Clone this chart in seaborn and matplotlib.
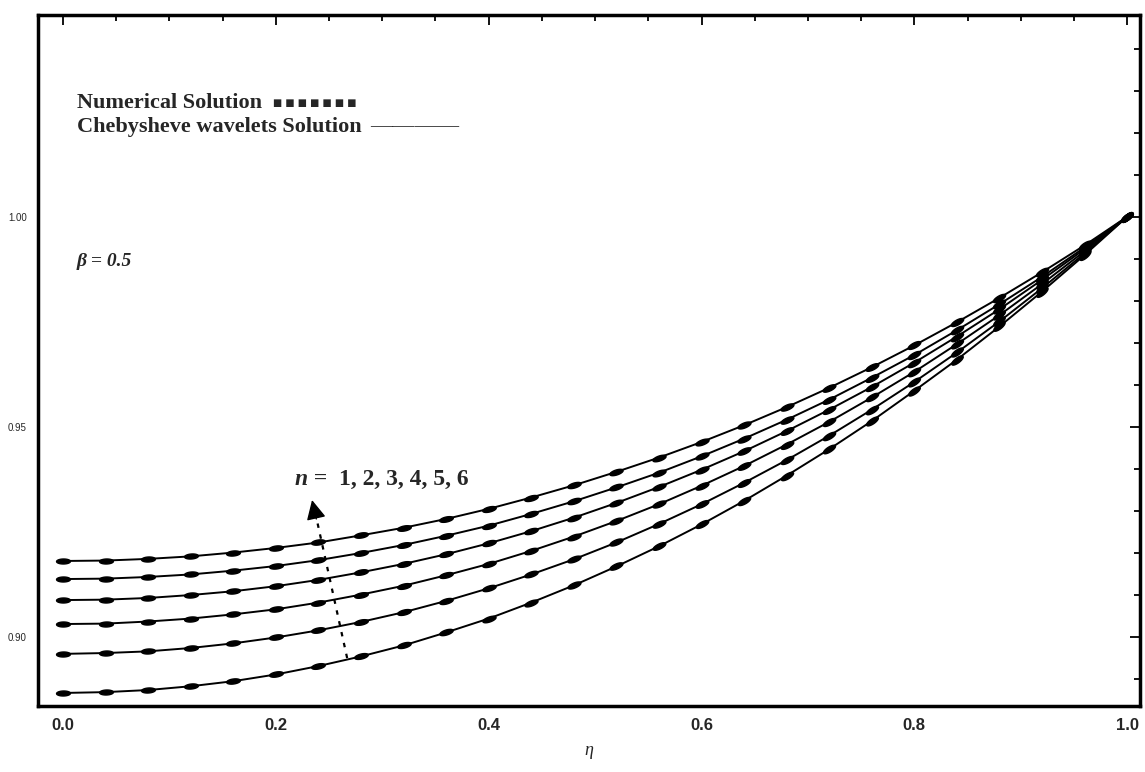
import numpy as np
import pandas as pd
import matplotlib
matplotlib.use("Agg")
import matplotlib.pyplot as plt
import seaborn as sns
from matplotlib.path import Path
from matplotlib.ticker import MultipleLocator

# ---------------- data ----------------
eta = [0.00, 0.04, 0.08, 0.12, 0.16, 0.20, 0.24, 0.28, 0.32, 0.36, 0.40, 0.44, 0.48,
       0.52, 0.56, 0.60, 0.64, 0.68, 0.72, 0.76, 0.80, 0.84, 0.88, 0.92, 0.96, 1.00]

theta_n1 = [0.8867, 0.8869, 0.8874, 0.8883, 0.8895, 0.8911, 0.8931, 0.8954, 0.8980,
            0.9011, 0.9044, 0.9082, 0.9123, 0.9168, 0.9216, 0.9268, 0.9324, 0.9384,
            0.9447, 0.9514, 0.9586, 0.9660, 0.9739, 0.9822, 0.9909, 1.0000]
theta_n2 = [0.8960, 0.8962, 0.8966, 0.8974, 0.8985, 0.8999, 0.9016, 0.9036, 0.9059,
            0.9086, 0.9116, 0.9149, 0.9185, 0.9225, 0.9269, 0.9316, 0.9367, 0.9421,
            0.9479, 0.9541, 0.9607, 0.9677, 0.9751, 0.9830, 0.9913, 1.0000]
theta_n3 = [0.9031, 0.9032, 0.9037, 0.9044, 0.9054, 0.9066, 0.9082, 0.9101, 0.9122,
            0.9147, 0.9174, 0.9205, 0.9239, 0.9276, 0.9316, 0.9360, 0.9407, 0.9458,
            0.9512, 0.9570, 0.9631, 0.9697, 0.9766, 0.9840, 0.9918, 1.0000]
theta_n4 = [0.9088, 0.9089, 0.9093, 0.9100, 0.9109, 0.9121, 0.9136, 0.9154, 0.9174,
            0.9197, 0.9223, 0.9252, 0.9284, 0.9319, 0.9357, 0.9398, 0.9442, 0.9490,
            0.9541, 0.9595, 0.9653, 0.9715, 0.9780, 0.9850, 0.9923, 1.0000]
theta_n5 = [0.9138, 0.9139, 0.9143, 0.9149, 0.9158, 0.9169, 0.9183, 0.9200, 0.9219,
            0.9241, 0.9265, 0.9293, 0.9323, 0.9356, 0.9391, 0.9430, 0.9472, 0.9517,
            0.9565, 0.9617, 0.9671, 0.9730, 0.9792, 0.9857, 0.9927, 1.0000]
theta_n6 = [0.9181, 0.9182, 0.9186, 0.9192, 0.9201, 0.9212, 0.9225, 0.9242, 0.9260,
            0.9281, 0.9305, 0.9332, 0.9361, 0.9393, 0.9427, 0.9464, 0.9504, 0.9547,
            0.9593, 0.9642, 0.9694, 0.9749, 0.9807, 0.9868, 0.9932, 1.0000]

n_values = [1, 2, 3, 4, 5, 6]
series = [theta_n1, theta_n2, theta_n3, theta_n4, theta_n5, theta_n6]

x_ticks = [0.0, 0.2, 0.4, 0.6, 0.8, 1.0]
x_ticklabels = ["0.0", "0.2", "0.4", "0.6", "0.8", "1.0"]
y_ticks = [0.90, 0.95, 1.00]
y_ticklabels = ["0.90", "0.95", "1.00"]

legend_numeric = "Numerical Solution"
legend_cheb = "Chebysheve wavelets Solution"
beta_text = "β = 0.5"
n_text = "n"
n_list_text = " =  1, 2, 3, 4, 5, 6"
x_label = "η"

# arrow (annotation) ends in data coordinates
arrow_tail = (0.267, 0.8950)
arrow_tip = (0.234, 0.9326)
n_text_pos = (0.218, 0.9375)

# ---------------- style ----------------
sns.set_theme(style="white")
plt.rcParams["font.family"] = ["Liberation Serif", "DejaVu Sans"]

fig = plt.figure(figsize=(11.45, 7.72), dpi=100)
ax = fig.add_axes([0.0332, 0.0855, 0.9624, 0.8951])

df = pd.DataFrame({
    "eta": np.tile(eta, len(n_values)),
    "theta": np.concatenate(series),
    "n": np.repeat(n_values, len(eta)),
})
sns.lineplot(data=df, x="eta", y="theta", hue="n", palette=["black"] * 6,
             estimator=None, sort=False, linewidth=1.4, legend=False, ax=ax)

ax.set_xlim(-0.0235, 1.012)
ax.set_ylim(0.8836, 1.048)

# numerical-solution markers: short dashes aligned with each curve
t = np.linspace(0, 2 * np.pi, 41)
ex, ey = np.cos(t), 0.36 * np.sin(t)
for ys in series:
    pts = ax.transData.transform(np.column_stack([eta, ys]))
    ang = np.arctan2(np.gradient(pts[:, 1]), np.gradient(pts[:, 0]))
    for xv, yv, a in zip(eta, ys, ang):
        vx = ex * np.cos(a) - ey * np.sin(a)
        vy = ex * np.sin(a) + ey * np.cos(a)
        scale = np.max(np.abs(np.concatenate([vx, vy])))
        ax.plot([xv], [yv], marker=Path(np.column_stack([vx, vy])),
                markersize=10 * scale, color="black", linestyle="none")

# axes / ticks
ax.set_xticks(x_ticks)
ax.set_xticklabels(x_ticklabels, fontsize=12, fontweight="bold",
                   family=["Liberation Sans", "DejaVu Sans"])
ax.set_yticks(y_ticks)
ax.set_yticklabels(y_ticklabels, fontsize=7, family=["Liberation Sans", "DejaVu Sans"])
ax.xaxis.set_minor_locator(MultipleLocator(0.05))
ax.yaxis.set_minor_locator(MultipleLocator(0.01))
ax.tick_params(which="both", direction="in", top=True, right=True,
               color="black", width=1.3)
ax.tick_params(which="major", length=7)
ax.tick_params(which="minor", length=4)
ax.tick_params(axis="x", which="major", pad=9)
ax.tick_params(axis="y", which="major", pad=8)
for sp in ax.spines.values():
    sp.set_linewidth(2.5)
    sp.set_color("black")
ax.grid(False)
ax.set_xlabel(x_label, fontsize=13, style="italic", labelpad=6)
ax.set_ylabel("")

# legend-like texts
t1 = fig.text(0.067, 1 - 103 / 772, legend_numeric, fontsize=16, fontweight="bold",
              va="center", ha="left")
fig.canvas.draw()
ax.annotate("■ ■ ■ ■ ■ ■ ■", xy=(1, 0.5), xycoords=t1, xytext=(8, 0),
            textcoords="offset points", fontsize=7, va="center", ha="left",
            family=["DejaVu Sans"])
t2 = fig.text(0.067, 1 - 127 / 772, legend_cheb, fontsize=16, fontweight="bold",
              va="center", ha="left")
ax.annotate("————", xy=(1, 0.5), xycoords=t2, xytext=(6, 0),
            textcoords="offset points", fontsize=16, va="center", ha="left")

fig.text(0.067, 1 - 262 / 772, beta_text, fontsize=14, fontweight="bold",
         style="italic", va="center", ha="left")

tn = ax.text(n_text_pos[0], n_text_pos[1], n_text, fontsize=17, fontweight="bold",
             style="italic", va="center", ha="left")
ax.annotate(n_list_text, xy=(1, 0.5), xycoords=tn, xytext=(0, 0),
            textcoords="offset points", fontsize=17, fontweight="bold",
            va="center", ha="left")

# dotted arrow
ax.plot([arrow_tail[0], arrow_tip[0] + 0.003], [arrow_tail[1], arrow_tip[1] - 0.003],
        color="black", linestyle=(0, (2, 3)), linewidth=1.6)
ax.annotate("", xy=arrow_tip, xytext=(arrow_tip[0] + 0.004, arrow_tip[1] - 0.0045),
            arrowprops=dict(arrowstyle="-|>", mutation_scale=30, color="black",
                            linewidth=1, shrinkA=0, shrinkB=0))

fig.savefig("out.png", dpi=100)
